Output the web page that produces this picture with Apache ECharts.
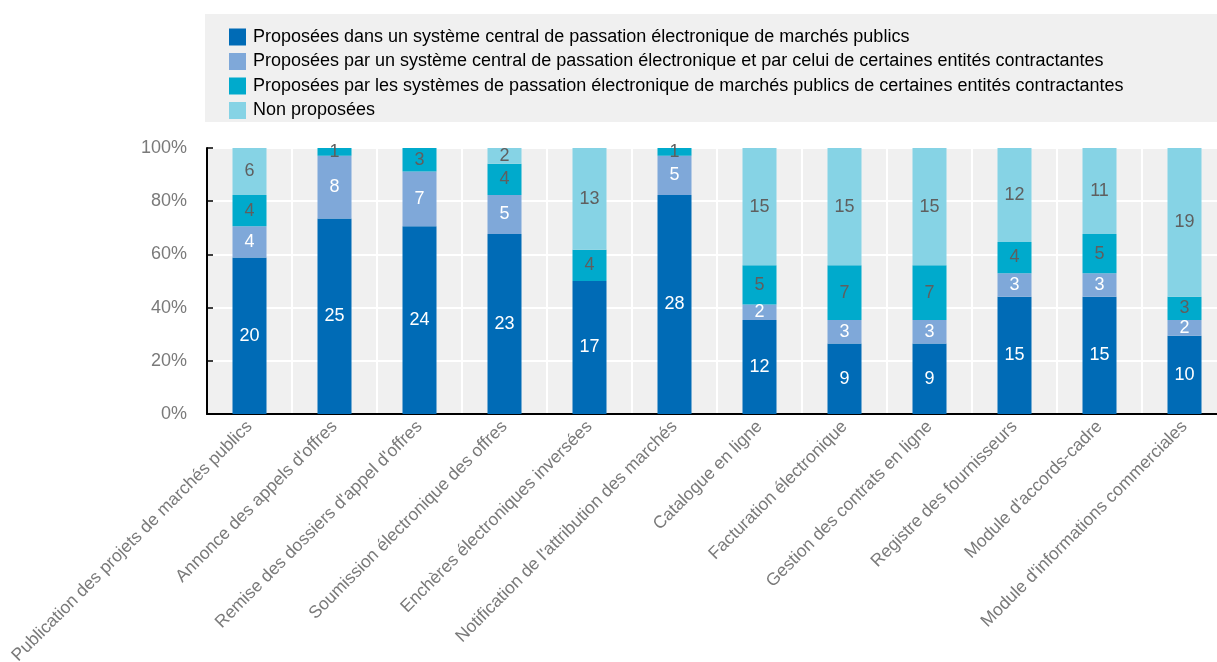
<!DOCTYPE html>
<html>
<head>
<meta charset="utf-8">
<script src="https://cdn.jsdelivr.net/npm/echarts@6/dist/echarts.min.js"></script>
<style>
html,body{margin:0;padding:0;background:#fff;overflow:hidden;}
#chart{width:1217px;height:662px;}
</style>
</head>
<body>
<div id="chart"></div>
<script>
// Categories of e-procurement functions
const categories = [
  "Publication des projets de marchés publics",
  "Annonce des appels d'offres",
  "Remise des dossiers d'appel d'offres",
  "Soumission électronique des offres",
  "Enchères électroniques inversées",
  "Notification de l'attribution des marchés",
  "Catalogue en ligne",
  "Facturation électronique",
  "Gestion des contrats en ligne",
  "Registre des fournisseurs",
  "Module d'accords-cadre",
  "Module d'informations commerciales"
];

const seriesNames = [
  "Proposées dans un système central de passation électronique de marchés publics",
  "Proposées par un système central de passation électronique et par celui de certaines entités contractantes",
  "Proposées par les systèmes de passation électronique de marchés publics de certaines entités contractantes",
  "Non proposées"
];

// Number of countries in each group
const centralOnly   = [20, 25, 24, 23, 17, 28, 12,  9,  9, 15, 15, 10];
const centralAndCE  = [ 4,  8,  7,  5,  0,  5,  2,  3,  3,  3,  3,  2];
const entitiesOnly  = [ 4,  1,  3,  4,  4,  1,  5,  7,  7,  4,  5,  3];
const notOffered    = [ 6,  0,  0,  2, 13,  0, 15, 15, 15, 12, 11, 19];

const yTicks = [0, 20, 40, 60, 80, 100];

const colors = ['#006BB6', '#7FA8D9', '#00AACC', '#86D3E5'];
const labelColors = ['#ffffff', '#ffffff', '#5f5f5f', '#5f5f5f'];
const FONT = '"Liberation Sans", Arial, sans-serif';

const groups = [centralOnly, centralAndCE, entitiesOnly, notOffered];
const totals = categories.map((_, i) => groups.reduce((s, g) => s + g[i], 0));

// Stack as shares of the total, label with the counts
const series = groups.map((g, k) => ({
  name: seriesNames[k],
  type: 'bar',
  stack: 'total',
  barWidth: '40%',
  itemStyle: { color: colors[k] },
  data: g.map((v, i) => ({ value: v / totals[i] * 100, count: v })),
  label: {
    show: true,
    position: 'inside',
    color: labelColors[k],
    fontFamily: FONT,
    fontSize: 18,
    formatter: p => p.data.count > 0 ? String(p.data.count) : ''
  }
}));

const chart = echarts.init(document.getElementById('chart'), null, { width: 1217, height: 662 });
chart.setOption({
  animation: false,
  graphic: [{
    type: 'rect',
    left: 205, top: 14,
    shape: { width: 1020, height: 108 },
    style: { fill: '#f0f0f0' },
    z: -1
  }],
  legend: {
    orient: 'vertical',
    left: 224, top: 23,
    itemWidth: 17, itemHeight: 17,
    itemGap: 6.5,
    icon: 'rect',
    textStyle: { fontFamily: FONT, fontSize: 18, color: '#000', padding: [0, 0, 0, 2] },
    data: seriesNames
  },
  grid: {
    left: 207, right: -10, top: 148, height: 266,
    outerBoundsMode: 'none',
    containLabel: false,
    show: true, backgroundColor: '#f0f0f0', borderWidth: 0
  },
  xAxis: {
    type: 'category',
    data: categories,
    axisLine: { lineStyle: { color: '#000', width: 2 } },
    axisTick: { inside: true, length: 6, lineStyle: { color: '#000', width: 1.5 } },
    splitLine: { show: true, lineStyle: { color: '#fff', width: 2 } },
    axisLabel: {
      rotate: 45, interval: 0, margin: 10,
      fontFamily: FONT, fontSize: 17.5, color: '#7a7a7a'
    }
  },
  yAxis: {
    type: 'value',
    min: 0, max: 100, interval: 20,
    axisLine: { show: true, lineStyle: { color: '#000', width: 2 } },
    axisTick: { show: true, inside: true, length: 6, lineStyle: { color: '#000', width: 1.5 } },
    splitLine: { show: true, lineStyle: { color: '#fff', width: 2 } },
    axisLabel: {
      margin: 20,
      fontFamily: FONT, fontSize: 18, color: '#7a7a7a',
      formatter: v => yTicks.includes(v) ? v + '%' : ''
    }
  },
  series: series
});
</script>
</body>
</html>
